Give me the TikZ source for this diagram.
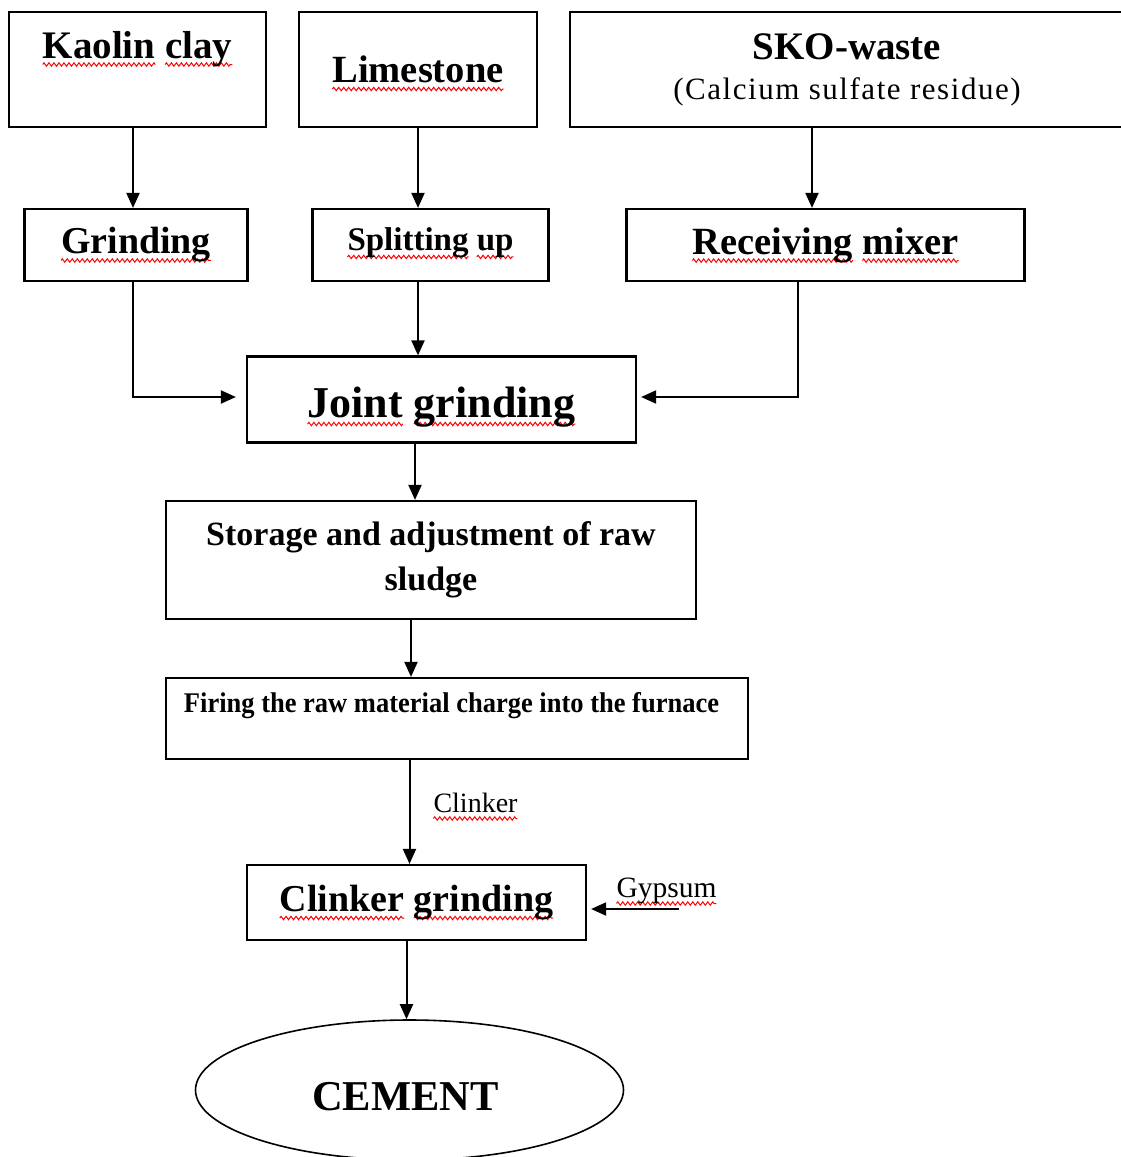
\documentclass[tikz,border=0pt]{standalone}
\usepackage{fontspec}
\setmainfont{Liberation Serif}
\newfontfamily\firingfont[FakeStretch=0.93]{Liberation Serif}
\usetikzlibrary{arrows.meta, shapes.geometric, decorations.pathmorphing}

% font size in pt, baselineskip equal to it
\newcommand{\fsz}[1]{\fontsize{#1pt}{#1pt}\selectfont}
% red wavy underline under one word
\tikzset{spellwave/.style={red, line width=1pt, decorate,
    decoration={zigzag, segment length=5pt, amplitude=1.7pt}}}
\newsavebox{\spellbox}
\newcommand{\spell}[1]{\sbox\spellbox{#1}%
    \rlap{\tikz[overlay, baseline=0pt]\draw[spellwave] (0pt,-6.5pt) -- (\wd\spellbox,-6.5pt);}%
    \usebox\spellbox}

\begin{document}
\begin{tikzpicture}[x=1pt, y=-1pt,
    box/.style={draw, line width=2.2pt, rectangle, inner sep=0pt, align=center},
    arr/.style={line width=2pt, -{Triangle[length=15pt, width=13pt]}}]
% Page
\path[use as bounding box, fill=white] (0,0) rectangle (1120,1157);
% Raw materials
\node[box, minimum width=257pt, minimum height=115pt, text height=27pt, text depth=50pt,
    font=\fsz{39}\bfseries] (kaolin) at (137.5,69.5) {\spell{Kaolin} \spell{clay}};
\node[box, minimum width=238pt, minimum height=115pt, text height=26pt, text depth=0pt,
    font=\fsz{38.5}\bfseries] (limestone) at (418,69.5) {\spell{Limestone}};
\node[box, minimum width=554pt, minimum height=115pt,
    font=\fontsize{31pt}{40pt}\selectfont] (sko) at (847,69.5)
    {{\fsz{39}\bfseries SKO-waste}\\\addfontfeature{LetterSpace=5}(Calcium sulfate residue)};
% Preparation
\node[box, minimum width=223pt, minimum height=72pt,
    font=\fsz{38}\bfseries] (grinding) at (136,245) {\spell{Grinding}};
\node[box, minimum width=236pt, minimum height=72pt, text depth=12pt,
    font=\fsz{33}\bfseries] (splitting) at (430.5,245) {\spell{Splitting} \spell{up}};
\node[box, minimum width=398pt, minimum height=72pt,
    font=\fsz{38.5}\bfseries] (mixer) at (825.5,245) {\spell{Receiving} \spell{mixer}};
% Main line
\node[box, minimum width=389pt, minimum height=86pt, text height=44pt, text depth=8pt,
    font=\fsz{44}\bfseries] (joint) at (441.5,399.5) {\spell{Joint} \spell{grinding}};
\node[box, minimum width=530pt, minimum height=118pt,
    font=\fontsize{34pt}{45pt}\selectfont\bfseries] (storage) at (431,560)
    {Storage and adjustment of raw\\sludge};
\node[box, minimum width=582pt, minimum height=81pt, text height=20pt, text depth=33pt,
    font=\fsz{28.5}\firingfont\bfseries] (firing) at (457,718.5)
    {Firing the raw material charge into the furnace\kern11pt};
\node[box, minimum width=339pt, minimum height=75pt,
    font=\fsz{38}\bfseries] (clinkergr) at (416.5,902.5) {\spell{Clinker} \spell{grinding}};
\node[draw, ellipse, line width=1.6pt, minimum width=428pt, minimum height=140pt,
    text height=40pt, text depth=0pt, font=\fsz{42.5}\bfseries] (cement) at (409.5,1090)
    {CEMENT\kern8pt};
% Flow labels
\node[anchor=base, inner sep=0pt, font=\fsz{28}] (clinker) at (475.5,812) {\spell{Clinker}};
\node[anchor=base, inner sep=0pt, font=\fsz{29.5}] (gypsum) at (666.5,897) {\spell{Gypsum}};
% Draw straight arrows down the chart
\foreach \from/\to/\dx in {kaolin/grinding/-4.5, limestone/splitting/0, sko/mixer/-35,
    splitting/joint/-12.5, joint/storage/-26.5, storage/firing/-20,
    firing/clinkergr/-47.5, clinkergr/cement/-10}{
    \draw[arr] ([xshift=\dx pt]\from.south) -- ([xshift=\dx pt]\from.south |- \to.north);
}
% Draw side feeds into joint grinding
\draw[arr, shorten >=10pt] ([xshift=-3pt]grinding.south) |- ([yshift=2.5pt]joint.west);
\draw[arr, shorten >=4pt] ([xshift=-27.5pt]mixer.south) |- ([yshift=2.5pt]joint.east);
% Gypsum feed
\coordinate (gypsumin) at ([xshift=12.5pt, yshift=-12pt]gypsum.base);
\draw[arr, shorten >=4pt] (gypsumin) -- (gypsumin -| clinkergr.east);
\end{tikzpicture}
\end{document}
